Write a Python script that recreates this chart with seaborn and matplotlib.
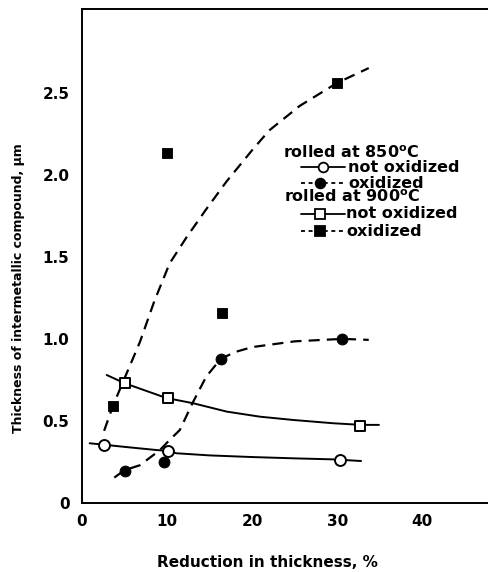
import matplotlib
matplotlib.use("Agg")
import matplotlib.pyplot as plt
import seaborn as sns
from matplotlib.lines import Line2D

# ---- data ----
# measured points
x_850_not = [2.6, 10.1, 30.3]
y_850_not = [0.354, 0.317, 0.262]
x_850_ox = [5.0, 9.6, 16.3, 30.6]
y_850_ox = [0.195, 0.25, 0.878, 1.0]
x_900_not = [5.0, 10.1, 32.7]
y_900_not = [0.733, 0.64, 0.47]
x_900_ox = [3.7, 10.0, 16.5, 30.0]
y_900_ox = [0.59, 2.13, 1.16, 2.56]

# hand-drawn trend curves
cx_850_not = [0.9, 2.6, 5, 8.7, 10.1, 11.1, 15, 20, 25, 29.4, 32.8]
cy_850_not = [0.364, 0.355, 0.342, 0.323, 0.317, 0.303, 0.29, 0.28, 0.272, 0.266, 0.256]
cx_850_ox = [3.8, 5, 6.8, 9.1, 10.3, 11.5, 13, 14.6, 16.3, 18, 20, 25, 30.6, 33.7]
cy_850_ox = [0.155, 0.2, 0.23, 0.32, 0.384, 0.445, 0.61, 0.77, 0.878, 0.92, 0.95, 0.985, 1.0, 0.994]
cx_900_not = [2.9, 5.0, 9.9, 13.05, 17, 20.9, 24.8, 29.5, 32.8, 34.9]
cy_900_not = [0.78, 0.73, 0.64, 0.608, 0.557, 0.526, 0.506, 0.486, 0.476, 0.476]
cx_900_ox = [2.6, 3.7, 5, 6.8, 8.5, 10.3, 12.3, 14.6, 17, 20, 22, 25.6, 30, 33.7]
cy_900_ox = [0.44, 0.6, 0.76, 0.98, 1.23, 1.46, 1.62, 1.79, 1.96, 2.15, 2.27, 2.42, 2.56, 2.65]

x_ticks = [0, 10, 20, 30, 40]
x_ticklabels = ["0", "10", "20", "30", "40"]
y_ticks = [0, 0.5, 1.0, 1.5, 2.0, 2.5]
y_ticklabels = ["0", "0.5", "1.0", "1.5", "2.0", "2.5"]

sns.set_style("white")
plt.rcParams["font.family"] = ["DejaVu Sans"]
plt.rcParams["font.weight"] = "bold"
plt.rcParams["mathtext.default"] = "bf"
plt.rcParams["text.color"] = "black"
plt.rcParams["axes.labelcolor"] = "black"
plt.rcParams["xtick.color"] = "black"
plt.rcParams["ytick.color"] = "black"

W, H = 488, 572
fig = plt.figure(figsize=(W / 100, H / 100), dpi=100)
ax = fig.add_axes([82 / W, 1 - 503 / H, (487 - 82) / W, (503 - 9) / H])

DASH = (0, (5, 3.2))
LDASH = (0, (2.2, 2.0))
sns.lineplot(x=cx_850_not, y=cy_850_not, sort=False, estimator=None, color="black", lw=1.4, ax=ax)
sns.lineplot(x=cx_900_not, y=cy_900_not, sort=False, estimator=None, color="black", lw=1.4, ax=ax)
sns.lineplot(x=cx_850_ox, y=cy_850_ox, sort=False, estimator=None, color="black", lw=1.6, linestyle=DASH, ax=ax)
sns.lineplot(x=cx_900_ox, y=cy_900_ox, sort=False, estimator=None, color="black", lw=1.6, linestyle=DASH, ax=ax)

ms = 62
sns.scatterplot(x=x_850_not, y=y_850_not, marker="o", s=ms, facecolor="white", edgecolor="black", linewidth=1.4, ax=ax, zorder=5)
sns.scatterplot(x=x_850_ox, y=y_850_ox, marker="o", s=ms, color="black", edgecolor="black", ax=ax, zorder=5)
sns.scatterplot(x=x_900_not, y=y_900_not, marker="s", s=ms, facecolor="white", edgecolor="black", linewidth=1.4, ax=ax, zorder=5)
sns.scatterplot(x=x_900_ox, y=y_900_ox, marker="s", s=ms, color="black", edgecolor="black", ax=ax, zorder=5)

ax.set_xlim(0, 47.6)
ax.set_ylim(0, 3.01)
ax.set_xticks(x_ticks)
ax.set_xticklabels(x_ticklabels)
ax.set_yticks(y_ticks)
ax.set_yticklabels(y_ticklabels)
ax.tick_params(direction="in", length=5, width=1.2, labelsize=11, colors="black")
ax.tick_params(axis="x", pad=8)
ax.tick_params(axis="y", pad=9)
for lab in ax.get_xticklabels() + ax.get_yticklabels():
    lab.set_fontweight("bold")
for s in ax.spines.values():
    s.set_color("black")
    s.set_linewidth(1.4)
ax.spines["right"].set_visible(False)

ax.set_xlabel("Reduction in thickness, %", fontsize=11, fontweight="bold")
ax.set_ylabel("Thickness of intermetallic compound, µm", fontsize=9, fontweight="bold")
ax.xaxis.set_label_coords((267 - 82) / (487 - 82), -(555 - 503) / (503 - 9))
ax.yaxis.set_label_coords(-(82 - 25) / (487 - 82), (503 - 288) / (503 - 9))

# ---- manual legend ----
def fx(px):
    return px / W

def fy(py):
    return 1 - py / H

fs = 11.5
fig.text(fx(283), fy(153), r"rolled at 850$^{o}$C", fontsize=fs, fontweight="bold", va="center", ha="left")
fig.text(fx(284), fy(197), r"rolled at 900$^{o}$C", fontsize=fs, fontweight="bold", va="center", ha="left")
rows = [
    (167, "-", "o", "white", "not oxidized", 323, 348),
    (183, LDASH, "o", "black", "oxidized", 320, 348),
    (214, "-", "s", "white", "not oxidized", 320, 346),
    (231, LDASH, "s", "black", "oxidized", 320, 346),
]
for py, ls, mk, fc, label, mx, tx in rows:
    fig.add_artist(Line2D([fx(301), fx(345)], [fy(py), fy(py)], transform=fig.transFigure,
                          color="black", lw=1.3, linestyle=ls))
    fig.add_artist(Line2D([fx(mx)], [fy(py)], transform=fig.transFigure, marker=mk,
                          markersize=7, markerfacecolor=fc, markeredgecolor="black",
                          markeredgewidth=1.3, linestyle="none"))
    fig.text(fx(tx), fy(py), label, fontsize=fs, fontweight="bold", va="center", ha="left")

fig.savefig("out.png", dpi=100)
